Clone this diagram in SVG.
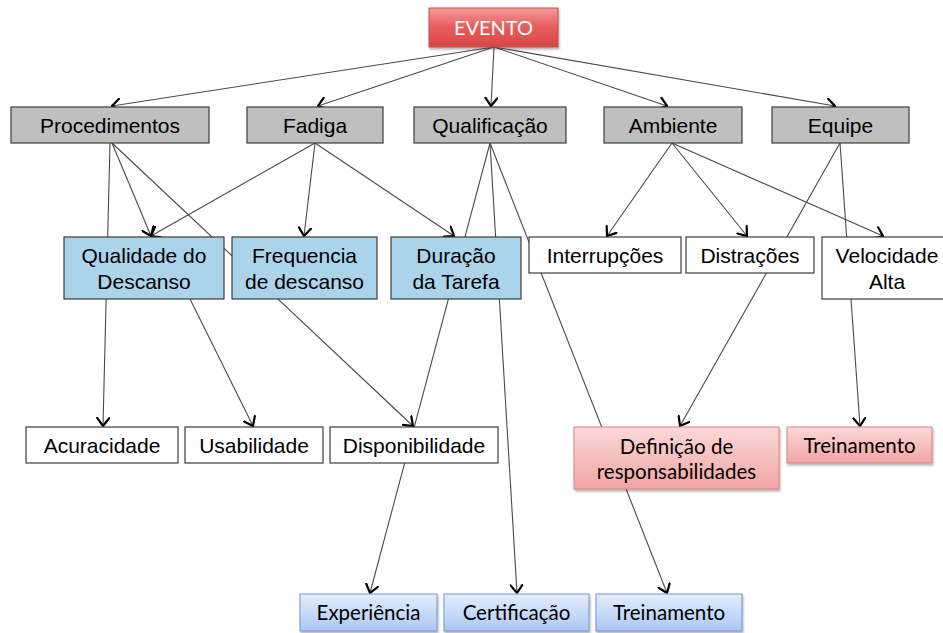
<svg xmlns="http://www.w3.org/2000/svg" width="943" height="633" viewBox="0 0 943 633">
  <defs>
    <linearGradient id="gRed" x1="0" y1="0" x2="0" y2="1">
      <stop offset="0" stop-color="#f49a9a"/>
      <stop offset="0.5" stop-color="#e65c5c"/>
      <stop offset="1" stop-color="#d94848"/>
    </linearGradient>
    <linearGradient id="gPink" x1="0" y1="0" x2="0" y2="1">
      <stop offset="0" stop-color="#fcd9d9"/>
      <stop offset="1" stop-color="#f2a4a4"/>
    </linearGradient>
    <linearGradient id="gBlue" x1="0" y1="0" x2="0" y2="1">
      <stop offset="0" stop-color="#e4eefd"/>
      <stop offset="1" stop-color="#abc7f3"/>
    </linearGradient>
    <filter id="shadow" x="-10%" y="-20%" width="125%" height="150%">
      <feDropShadow dx="1" dy="2" stdDeviation="1.2" flood-color="#000" flood-opacity="0.3"/>
    </filter>
    <marker id="arrow" viewBox="0 0 10 14" refX="9" refY="7" markerWidth="10" markerHeight="14" markerUnits="userSpaceOnUse" orient="auto">
      <path d="M1,1 L9,7 L1,13" fill="none" stroke="#000" stroke-width="2.2" stroke-linecap="round" stroke-linejoin="miter"/>
    </marker>
  </defs>
  <style>
    .edge { stroke: #4a4a4a; stroke-width: 1.1; fill: none; }
    .arr { marker-end: url(#arrow); }
    .gray { fill: #bfbfbf; stroke: #3c3c3c; stroke-width: 1.2; }
    .lblue { fill: #abd3ea; stroke: #3c3c3c; stroke-width: 1.2; }
    .white { fill: #ffffff; stroke: #3c3c3c; stroke-width: 1.2; }
    .red { fill: url(#gRed); stroke: #c94a4a; stroke-width: 1; filter: url(#shadow); }
    .pink { fill: url(#gPink); stroke: #d88484; stroke-width: 1; filter: url(#shadow); }
    .blue { fill: url(#gBlue); stroke: #7597cf; stroke-width: 1; filter: url(#shadow); }
    .t { font-family: "Liberation Sans", Arial, sans-serif; font-size: 21px; fill: #000; text-anchor: middle; }
    .c { font-family: Lato, "Open Sans", sans-serif; font-size: 20.5px; fill: #000; text-anchor: middle; }
    .cw { font-family: Lato, "Open Sans", sans-serif; font-size: 20px; fill: #fff; text-anchor: middle; }
  </style>

  <!-- connectors -->
  <g id="connectors">
    <line class="edge arr" x1="494" y1="47" x2="112" y2="106"/>
    <line class="edge arr" x1="494" y1="47" x2="318" y2="106"/>
    <line class="edge arr" x1="494" y1="47" x2="491" y2="106"/>
    <line class="edge arr" x1="494" y1="47" x2="667" y2="106"/>
    <line class="edge arr" x1="494" y1="47" x2="835" y2="106"/>

    <line class="edge arr" x1="110" y1="143" x2="103" y2="426"/>
    <line class="edge arr" x1="112" y1="143" x2="151" y2="236"/>
    <line class="edge arr" x1="112" y1="143" x2="413" y2="426"/>
    <line class="edge arr" x1="190" y1="299" x2="253" y2="426"/>

    <line class="edge arr" x1="315" y1="143" x2="151" y2="236"/>
    <line class="edge arr" x1="315" y1="143" x2="304" y2="236"/>
    <line class="edge arr" x1="315" y1="143" x2="454" y2="236"/>

    <line class="edge arr" x1="490" y1="143" x2="370" y2="593"/>
    <line class="edge arr" x1="490" y1="143" x2="517" y2="593"/>
    <line class="edge arr" x1="490" y1="143" x2="667" y2="593"/>

    <line class="edge arr" x1="672" y1="143" x2="607" y2="236"/>
    <line class="edge arr" x1="672" y1="143" x2="747" y2="236"/>
    <line class="edge arr" x1="672" y1="143" x2="883" y2="236"/>

    <line class="edge arr" x1="840" y1="143" x2="680" y2="426"/>
    <line class="edge arr" x1="840" y1="143" x2="860" y2="426"/>
  </g>

  <!-- root -->
  <g id="evento">
    <rect class="red" x="429" y="8" width="129" height="39"/>
    <text class="cw" x="493.5" y="35">EVENTO</text>
  </g>

  <!-- first level -->
  <g id="procedimentos">
    <rect class="gray" x="11" y="107" width="198" height="36"/>
    <text class="t" x="110" y="133">Procedimentos</text>
  </g>
  <g id="fadiga">
    <rect class="gray" x="247" y="107" width="136" height="36"/>
    <text class="t" x="315" y="133">Fadiga</text>
  </g>
  <g id="qualificacao">
    <rect class="gray" x="414" y="107" width="152" height="36"/>
    <text class="t" x="490" y="133">Qualificação</text>
  </g>
  <g id="ambiente">
    <rect class="gray" x="604" y="107" width="138" height="36"/>
    <text class="t" x="673" y="133">Ambiente</text>
  </g>
  <g id="equipe">
    <rect class="gray" x="772" y="107" width="137" height="36"/>
    <text class="t" x="840.5" y="133">Equipe</text>
  </g>

  <!-- second level -->
  <g id="qualidade-descanso">
    <rect class="lblue" x="64" y="237" width="160" height="62"/>
    <text class="t" x="144" y="263">Qualidade do</text>
    <text class="t" x="144" y="289">Descanso</text>
  </g>
  <g id="frequencia-descanso">
    <rect class="lblue" x="232" y="237" width="145" height="62"/>
    <text class="t" x="304.5" y="263">Frequencia</text>
    <text class="t" x="304.5" y="289">de descanso</text>
  </g>
  <g id="duracao-tarefa">
    <rect class="lblue" x="391" y="237" width="130" height="62"/>
    <text class="t" x="456" y="263">Duração</text>
    <text class="t" x="456" y="289">da Tarefa</text>
  </g>
  <g id="interrupcoes">
    <rect class="white" x="529" y="237" width="152" height="36"/>
    <text class="t" x="605" y="263">Interrupções</text>
  </g>
  <g id="distracoes">
    <rect class="white" x="686" y="237" width="128" height="36"/>
    <text class="t" x="750" y="263">Distrações</text>
  </g>
  <g id="velocidade-alta">
    <rect class="white" x="822" y="237" width="130" height="62"/>
    <text class="t" x="887" y="263">Velocidade</text>
    <text class="t" x="887" y="289">Alta</text>
  </g>

  <!-- third level -->
  <g id="acuracidade">
    <rect class="white" x="26" y="427" width="152" height="36"/>
    <text class="t" x="102" y="453">Acuracidade</text>
  </g>
  <g id="usabilidade">
    <rect class="white" x="185" y="427" width="138" height="36"/>
    <text class="t" x="254" y="453">Usabilidade</text>
  </g>
  <g id="disponibilidade">
    <rect class="white" x="330" y="427" width="168" height="36"/>
    <text class="t" x="414" y="453">Disponibilidade</text>
  </g>
  <g id="definicao-responsabilidades">
    <rect class="pink" x="574" y="427" width="205" height="62"/>
    <text class="c" x="676.5" y="454">Definição de</text>
    <text class="c" x="676.5" y="479">responsabilidades</text>
  </g>
  <g id="treinamento-equipe">
    <rect class="pink" x="787" y="427" width="145" height="36"/>
    <text class="c" x="859.5" y="453">Treinamento</text>
  </g>

  <!-- fourth level -->
  <g id="experiencia">
    <rect class="blue" x="300" y="594" width="137" height="37"/>
    <text class="c" x="368.5" y="620">Experiência</text>
  </g>
  <g id="certificacao">
    <rect class="blue" x="444" y="594" width="145" height="37"/>
    <text class="c" x="516.5" y="620">Certificação</text>
  </g>
  <g id="treinamento-qualificacao">
    <rect class="blue" x="596" y="594" width="146" height="37"/>
    <text class="c" x="669" y="620">Treinamento</text>
  </g>
</svg>
